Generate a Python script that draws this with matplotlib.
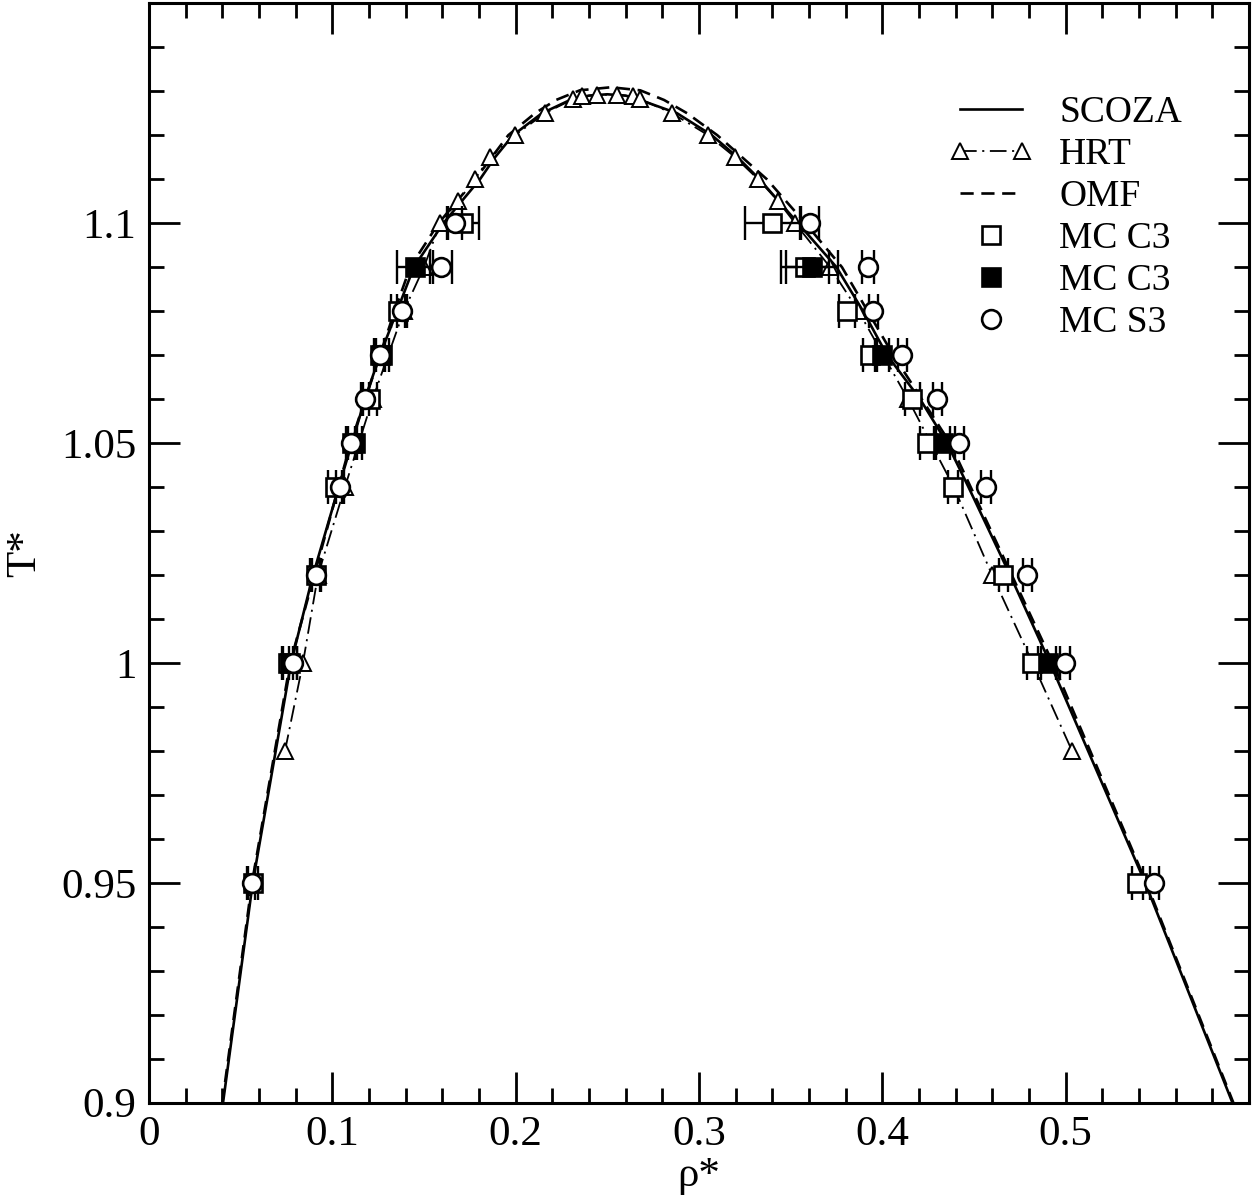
import matplotlib
matplotlib.use("Agg")
import matplotlib.pyplot as plt
from matplotlib.lines import Line2D
from matplotlib.legend_handler import HandlerLine2D
from matplotlib.ticker import MultipleLocator

# ---------------- data ----------------
scoza_x = [0.0404, 0.0566, 0.0775, 0.0895, 0.1035, 0.1107, 0.1178, 0.1260, 0.1353, 0.1445,
           0.1606, 0.1806, 0.1888, 0.1986, 0.2144, 0.2297, 0.2400, 0.2500, 0.2600, 0.2680,
           0.2880, 0.3070, 0.3210, 0.3330, 0.3540, 0.3750, 0.3895, 0.4026, 0.4206, 0.4353,
           0.4470, 0.4697, 0.4915, 0.5434, 0.5910]
scoza_T = [0.90, 0.95, 1.00, 1.02, 1.04, 1.05, 1.06, 1.07, 1.08, 1.09,
           1.10, 1.11, 1.115, 1.12, 1.125, 1.128, 1.1290, 1.1293, 1.1290, 1.128,
           1.125, 1.12, 1.115, 1.11, 1.10, 1.09, 1.08, 1.07, 1.06, 1.05,
           1.04, 1.02, 1.00, 0.95, 0.90]

omf_x = [0.0400, 0.0562, 0.0770, 0.1100, 0.1340, 0.1425, 0.1580, 0.1780, 0.1960, 0.2106,
         0.2220, 0.2350, 0.2520, 0.2680, 0.2810, 0.2935, 0.3100, 0.3370, 0.3580, 0.3780,
         0.3920, 0.4060, 0.4370, 0.4930, 0.5440, 0.5915]
omf_T = [0.90, 0.95, 1.00, 1.05, 1.08, 1.09, 1.10, 1.11, 1.12, 1.125,
         1.128, 1.1302, 1.1309, 1.1302, 1.128, 1.125, 1.12, 1.11, 1.10, 1.09,
         1.08, 1.07, 1.05, 1.00, 0.95, 0.90]

hrt_x = [0.0742, 0.0840, 0.0922, 0.1069, 0.1220, 0.1390, 0.1500, 0.1588, 0.1686, 0.1778,
         0.1860, 0.1997, 0.2160, 0.2313, 0.2362, 0.2444, 0.2553, 0.2640, 0.2679, 0.2853,
         0.3050, 0.3197, 0.3322, 0.3432, 0.3524, 0.3715, 0.3870, 0.4140, 0.4390, 0.4599,
         0.4820, 0.5035]
hrt_T = [0.98, 1.00, 1.02, 1.04, 1.06, 1.08, 1.09, 1.10, 1.105, 1.11,
         1.115, 1.12, 1.125, 1.1282, 1.1288, 1.1292, 1.1292, 1.1288, 1.1282, 1.125,
         1.12, 1.115, 1.11, 1.105, 1.10, 1.09, 1.08, 1.06, 1.04, 1.02,
         1.00, 0.98]

mc_c3_open_x = [0.0567, 0.0758, 0.0911, 0.1015, 0.1107, 0.1206, 0.1260, 0.1358, 0.1713,
                0.3399, 0.3580, 0.3808, 0.3933, 0.4163, 0.4244, 0.4386, 0.4659, 0.4817, 0.5390]
mc_c3_open_T = [0.95, 1.00, 1.02, 1.04, 1.05, 1.06, 1.07, 1.08, 1.10,
                1.10, 1.09, 1.08, 1.07, 1.06, 1.05, 1.04, 1.02, 1.00, 0.95]
mc_c3_open_err = [0.003, 0.003, 0.003, 0.004, 0.003, 0.004, 0.003, 0.004, 0.0085,
                  0.015, 0.013, 0.0045, 0.004, 0.004, 0.004, 0.0025, 0.0025, 0.003, 0.003]

mc_c3_fill_x = [0.0769, 0.1124, 0.1271, 0.1451, 0.3617, 0.3999, 0.4332, 0.4905]
mc_c3_fill_T = [1.00, 1.05, 1.07, 1.09, 1.09, 1.07, 1.05, 1.00]
mc_c3_fill_err = [0.004, 0.004, 0.004, 0.010, 0.014, 0.004, 0.004, 0.004]

mc_s3_x = [0.0560, 0.0786, 0.0911, 0.1042, 0.1102, 0.1178, 0.1260, 0.1380, 0.1593, 0.1669,
           0.3606, 0.3923, 0.3950, 0.4108, 0.4299, 0.4419, 0.4566, 0.4790, 0.4997, 0.5483]
mc_s3_T = [0.95, 1.00, 1.02, 1.04, 1.05, 1.06, 1.07, 1.08, 1.09, 1.10,
           1.10, 1.09, 1.08, 1.07, 1.06, 1.05, 1.04, 1.02, 1.00, 0.95]
mc_s3_err = [0.002, 0.002, 0.002, 0.002, 0.002, 0.002, 0.002, 0.0025, 0.006, 0.004,
             0.005, 0.0033, 0.0025, 0.0025, 0.0025, 0.0025, 0.0025, 0.0025, 0.0025, 0.0025]

xticks = [0, 0.1, 0.2, 0.3, 0.4, 0.5]
xtick_labels = ["0", "0.1", "0.2", "0.3", "0.4", "0.5"]
yticks = [0.9, 0.95, 1.0, 1.05, 1.1]
ytick_labels = ["0.9", "0.95", "1", "1.05", "1.1"]

legend_labels = ["SCOZA", "HRT", "OMF", "MC C3", "MC C3", "MC S3"]

# ---------------- style ----------------
plt.rcParams['font.family'] = ['Liberation Serif', 'DejaVu Serif']
plt.rcParams['lines.scale_dashes'] = False

fig = plt.figure(figsize=(12.57, 12.04), dpi=100)
ax = fig.add_axes([0.1185, 0.0841, 0.8751, 0.9132])

LW = 1.9
HRT_DASH = (12, 4, 1.5, 4)
OMF_DASH = (9.5, 5.5)
ax.plot(scoza_x, scoza_T, color='black', lw=LW, solid_joinstyle='round', zorder=2)
ax.plot(omf_x, omf_T, color='black', lw=LW, dashes=OMF_DASH, zorder=2)
ax.plot(hrt_x, hrt_T, color='black', lw=1.3, dashes=HRT_DASH,
        marker='^', ms=11, mfc='white', mec='black', mew=1.4, zorder=2.5)

ms_sq = 13
ms_ci = 13.5
mew = 1.9
cap = 12
ax.errorbar(mc_c3_open_x, mc_c3_open_T, xerr=mc_c3_open_err, fmt='none', ecolor='black',
            elinewidth=1.7, capsize=cap, capthick=1.7, zorder=3)
ax.plot(mc_c3_open_x, mc_c3_open_T, ls='none', marker='s', ms=ms_sq, mfc='white',
        mec='black', mew=mew, zorder=4)
ax.errorbar(mc_c3_fill_x, mc_c3_fill_T, xerr=mc_c3_fill_err, fmt='none', ecolor='black',
            elinewidth=1.7, capsize=cap, capthick=1.7, zorder=5)
ax.plot(mc_c3_fill_x, mc_c3_fill_T, ls='none', marker='s', ms=ms_sq, mfc='black',
        mec='black', mew=mew, zorder=6)
ax.errorbar(mc_s3_x, mc_s3_T, xerr=mc_s3_err, fmt='none', ecolor='black',
            elinewidth=1.7, capsize=cap, capthick=1.7, zorder=7)
ax.plot(mc_s3_x, mc_s3_T, ls='none', marker='o', ms=ms_ci, mfc='white',
        mec='black', mew=mew, zorder=8)

# ---------------- axes ----------------
ax.set_xlim(0, 0.6)
ax.set_ylim(0.9, 1.15)
ax.set_xticks(xticks)
ax.set_xticklabels(xtick_labels)
ax.set_yticks(yticks)
ax.set_yticklabels(ytick_labels)
ax.xaxis.set_minor_locator(MultipleLocator(0.02))
ax.yaxis.set_minor_locator(MultipleLocator(0.01))
ax.tick_params(which='both', direction='in', top=True, right=True, width=2.0, colors='black')
ax.tick_params(which='major', length=22, labelsize=31, pad=9)
ax.tick_params(which='minor', length=11)
for s in ax.spines.values():
    s.set_linewidth(2.2)

ax.set_xlabel("ρ*", fontsize=31, labelpad=2)
ax.set_ylabel("T*", fontsize=31, labelpad=12)

# ---------------- legend ----------------
h_scoza = Line2D([], [], color='black', lw=LW)
h_hrt = Line2D([], [], color='black', lw=1.3, dashes=HRT_DASH, marker='^', ms=11,
               mfc='white', mec='black', mew=1.4)
h_omf = Line2D([], [], color='black', lw=LW, dashes=OMF_DASH)
h_open = Line2D([], [], ls='none', marker='s', ms=ms_sq, mfc='white', mec='black', mew=mew)
h_fill = Line2D([], [], ls='none', marker='s', ms=ms_sq, mfc='black', mec='black', mew=mew)
h_circ = Line2D([], [], ls='none', marker='o', ms=ms_ci, mfc='white', mec='black', mew=mew)

leg = ax.legend([h_scoza, h_hrt, h_omf, h_open, h_fill, h_circ], legend_labels,
                loc='upper left', bbox_to_anchor=(0.737, 0.916), frameon=False,
                fontsize=27, handlelength=1.65, handletextpad=1.0, labelspacing=0.2,
                borderpad=0, borderaxespad=0,
                handler_map={h_scoza: HandlerLine2D(marker_pad=0, numpoints=2),
                             h_hrt: HandlerLine2D(marker_pad=0, numpoints=2),
                             h_omf: HandlerLine2D(marker_pad=0, numpoints=2),
                             h_open: HandlerLine2D(numpoints=1),
                             h_fill: HandlerLine2D(numpoints=1),
                             h_circ: HandlerLine2D(numpoints=1)})

fig.savefig("out.png", dpi=100)
